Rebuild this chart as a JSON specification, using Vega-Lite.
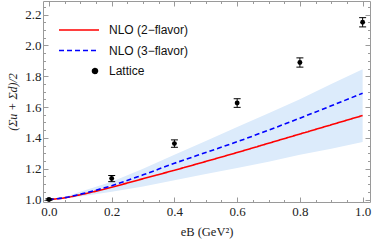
{
  "$schema": "https://vega.github.io/schema/vega-lite/v6.json",
  "width": 327,
  "height": 201,
  "autosize": {"type": "none"},
  "padding": {"left": 43, "top": 1, "right": 4, "bottom": 43},
  "background": "white",
  "config": {
    "view": {"stroke": "#9a9a9a", "strokeWidth": 1},
    "axis": {"grid": false, "domain": false, "tickColor": "#9a9a9a", "labelFont": "Liberation Serif", "labelFontSize": 13, "labelColor": "#222222", "titleFont": "Liberation Serif", "titleFontWeight": "normal", "titleColor": "#222222"},
    "legend": {"orient": "none", "legendX": 26, "legendY": 18, "padding": 0, "labelFont": "Liberation Sans", "labelFontSize": 12, "labelColor": "#111111", "labelOffset": 18, "rowPadding": 3.5, "symbolStrokeWidth": 1.6, "symbolSize": 400, "title": null}
  },
  "datasets": {
    "curves": [
      {"x": 0.0, "series": "NLO (2−flavor)", "y": 1.0},
      {"x": 0.05, "series": "NLO (2−flavor)", "y": 1.011},
      {"x": 0.1, "series": "NLO (2−flavor)", "y": 1.031},
      {"x": 0.2, "series": "NLO (2−flavor)", "y": 1.08},
      {"x": 0.3, "series": "NLO (2−flavor)", "y": 1.135},
      {"x": 0.4, "series": "NLO (2−flavor)", "y": 1.19},
      {"x": 0.5, "series": "NLO (2−flavor)", "y": 1.247},
      {"x": 0.6, "series": "NLO (2−flavor)", "y": 1.305},
      {"x": 0.7, "series": "NLO (2−flavor)", "y": 1.365},
      {"x": 0.8, "series": "NLO (2−flavor)", "y": 1.425},
      {"x": 0.9, "series": "NLO (2−flavor)", "y": 1.485},
      {"x": 1.0, "series": "NLO (2−flavor)", "y": 1.545},
      {"x": 0.0, "series": "NLO (3−flavor)", "y": 1.0},
      {"x": 0.05, "series": "NLO (3−flavor)", "y": 1.012},
      {"x": 0.1, "series": "NLO (3−flavor)", "y": 1.035},
      {"x": 0.2, "series": "NLO (3−flavor)", "y": 1.09},
      {"x": 0.3, "series": "NLO (3−flavor)", "y": 1.16},
      {"x": 0.4, "series": "NLO (3−flavor)", "y": 1.235},
      {"x": 0.5, "series": "NLO (3−flavor)", "y": 1.305},
      {"x": 0.6, "series": "NLO (3−flavor)", "y": 1.375},
      {"x": 0.7, "series": "NLO (3−flavor)", "y": 1.45},
      {"x": 0.8, "series": "NLO (3−flavor)", "y": 1.528},
      {"x": 0.9, "series": "NLO (3−flavor)", "y": 1.608},
      {"x": 1.0, "series": "NLO (3−flavor)", "y": 1.69}
    ],
    "band": [
      {"x": 0.0, "lo": 1.0, "hi": 1.0},
      {"x": 0.05, "lo": 1.006, "hi": 1.016},
      {"x": 0.1, "lo": 1.02, "hi": 1.05},
      {"x": 0.2, "lo": 1.05, "hi": 1.115},
      {"x": 0.3, "lo": 1.085, "hi": 1.2},
      {"x": 0.4, "lo": 1.125, "hi": 1.29},
      {"x": 0.5, "lo": 1.165, "hi": 1.38},
      {"x": 0.6, "lo": 1.205, "hi": 1.47},
      {"x": 0.7, "lo": 1.245, "hi": 1.56},
      {"x": 0.8, "lo": 1.29, "hi": 1.65},
      {"x": 0.9, "lo": 1.33, "hi": 1.75},
      {"x": 1.0, "lo": 1.373, "hi": 1.845}
    ],
    "lattice": [
      {"x": 0.0, "y": 1.0, "lo": 0.995, "hi": 1.005, "series": "Lattice"},
      {"x": 0.2, "y": 1.136, "lo": 1.116, "hi": 1.156, "series": "Lattice"},
      {"x": 0.4, "y": 1.363, "lo": 1.339, "hi": 1.387, "series": "Lattice"},
      {"x": 0.6, "y": 1.626, "lo": 1.598, "hi": 1.654, "series": "Lattice"},
      {"x": 0.8, "y": 1.889, "lo": 1.859, "hi": 1.919, "series": "Lattice"},
      {"x": 1.0, "y": 2.15, "lo": 2.12, "hi": 2.18, "series": "Lattice"}
    ]
  },
  "resolve": {"axis": {"x": "independent", "y": "independent"}},
  "layer": [
    {
      "data": {"name": "band"},
      "mark": {"type": "area", "color": "#dcebfb", "opacity": 1},
      "encoding": {
        "x": {"field": "x", "type": "quantitative", "scale": {"domain": [-0.019, 1.0235], "nice": false, "zero": false},
          "axis": {"orient": "bottom", "values": [0, 0.2, 0.4, 0.6, 0.8, 1.0], "format": ".1f", "ticks": false, "labelPadding": 3, "title": "eB (GeV²)", "titleFontSize": 12.5, "titlePadding": 7}},
        "y": {"field": "lo", "type": "quantitative", "scale": {"domain": [0.984, 2.288], "nice": false, "zero": false},
          "axis": {"orient": "left", "values": [1.0, 1.2, 1.4, 1.6, 1.8, 2.0, 2.2], "format": ".1f", "ticks": false, "labelPadding": 2, "title": "(Σu + Σd)/2", "titleFontSize": 12, "titleFontStyle": "italic", "titlePadding": 5}},
        "y2": {"field": "hi"}
      }
    },
    {
      "data": {"name": "curves"},
      "mark": {"type": "line", "interpolate": "monotone", "strokeWidth": 1.6},
      "encoding": {
        "x": {"field": "x", "type": "quantitative",
          "axis": {"orient": "bottom", "values": [0, 0.2, 0.4, 0.6, 0.8, 1.0], "labels": false, "tickSize": -5, "title": null}},
        "y": {"field": "y", "type": "quantitative",
          "axis": {"orient": "left", "values": [1.0, 1.2, 1.4, 1.6, 1.8, 2.0, 2.2], "labels": false, "tickSize": -5, "title": null}},
        "color": {"field": "series", "type": "nominal",
          "scale": {"domain": ["NLO (2−flavor)", "NLO (3−flavor)", "Lattice"], "range": ["#ff0000", "#0000ff", "#000000"]},
          "legend": {"encode": {"symbols": {"update": {"fill": {"scale": "color", "field": "value"}, "stroke": {"scale": "color", "field": "value"}, "size": {"signal": "datum.value === 'Lattice' ? 24 : 400"}, "x": {"signal": "datum.value === 'Lattice' ? 26 : 10"}}}}}},
        "strokeDash": {"field": "series", "type": "nominal",
          "scale": {"domain": ["NLO (2−flavor)", "NLO (3−flavor)", "Lattice"], "range": [[1, 0], [5, 3], [1, 0]]}}
      }
    },
    {
      "data": {"name": "lattice"},
      "mark": {"type": "rule", "color": "#000000", "strokeWidth": 1},
      "encoding": {
        "x": {"field": "x", "type": "quantitative",
          "axis": {"orient": "bottom", "values": [0.05, 0.1, 0.15, 0.25, 0.3, 0.35, 0.45, 0.5, 0.55, 0.65, 0.7, 0.75, 0.85, 0.9, 0.95], "labels": false, "tickSize": -2.5, "title": null}},
        "y": {"field": "lo", "type": "quantitative",
          "axis": {"orient": "left", "values": [1.05, 1.1, 1.15, 1.25, 1.3, 1.35, 1.45, 1.5, 1.55, 1.65, 1.7, 1.75, 1.85, 1.9, 1.95, 2.05, 2.1, 2.15, 2.25], "labels": false, "tickSize": -2.5, "title": null}},
        "y2": {"field": "hi"}
      }
    },
    {
      "data": {"name": "lattice"},
      "transform": [{"fold": ["lo", "hi"], "as": ["k", "yc"]}],
      "mark": {"type": "tick", "orient": "horizontal", "color": "#000000", "size": 7, "thickness": 1, "opacity": 1},
      "encoding": {
        "x": {"field": "x", "type": "quantitative",
          "axis": {"orient": "top", "values": [0, 0.2, 0.4, 0.6, 0.8, 1.0], "labels": false, "tickSize": -5, "title": null}},
        "y": {"field": "yc", "type": "quantitative",
          "axis": {"orient": "right", "values": [1.0, 1.2, 1.4, 1.6, 1.8, 2.0, 2.2], "labels": false, "tickSize": -5, "title": null}}
      }
    },
    {
      "data": {"name": "lattice"},
      "mark": {"type": "point", "filled": true, "opacity": 1, "size": 24},
      "encoding": {
        "x": {"field": "x", "type": "quantitative",
          "axis": {"orient": "top", "values": [0.05, 0.1, 0.15, 0.25, 0.3, 0.35, 0.45, 0.5, 0.55, 0.65, 0.7, 0.75, 0.85, 0.9, 0.95], "labels": false, "tickSize": -2.5, "title": null}},
        "y": {"field": "y", "type": "quantitative",
          "axis": {"orient": "right", "values": [1.05, 1.1, 1.15, 1.25, 1.3, 1.35, 1.45, 1.5, 1.55, 1.65, 1.7, 1.75, 1.85, 1.9, 1.95, 2.05, 2.1, 2.15, 2.25], "labels": false, "tickSize": -2.5, "title": null}},
        "color": {"field": "series", "type": "nominal",
          "scale": {"domain": ["NLO (2−flavor)", "NLO (3−flavor)", "Lattice"], "range": ["#ff0000", "#0000ff", "#000000"]}},
        "shape": {"field": "series", "type": "nominal",
          "scale": {"domain": ["NLO (2−flavor)", "NLO (3−flavor)", "Lattice"], "range": ["M-2,0H2", "M-2,0H2", "circle"]}}
      }
    }
  ]
}
